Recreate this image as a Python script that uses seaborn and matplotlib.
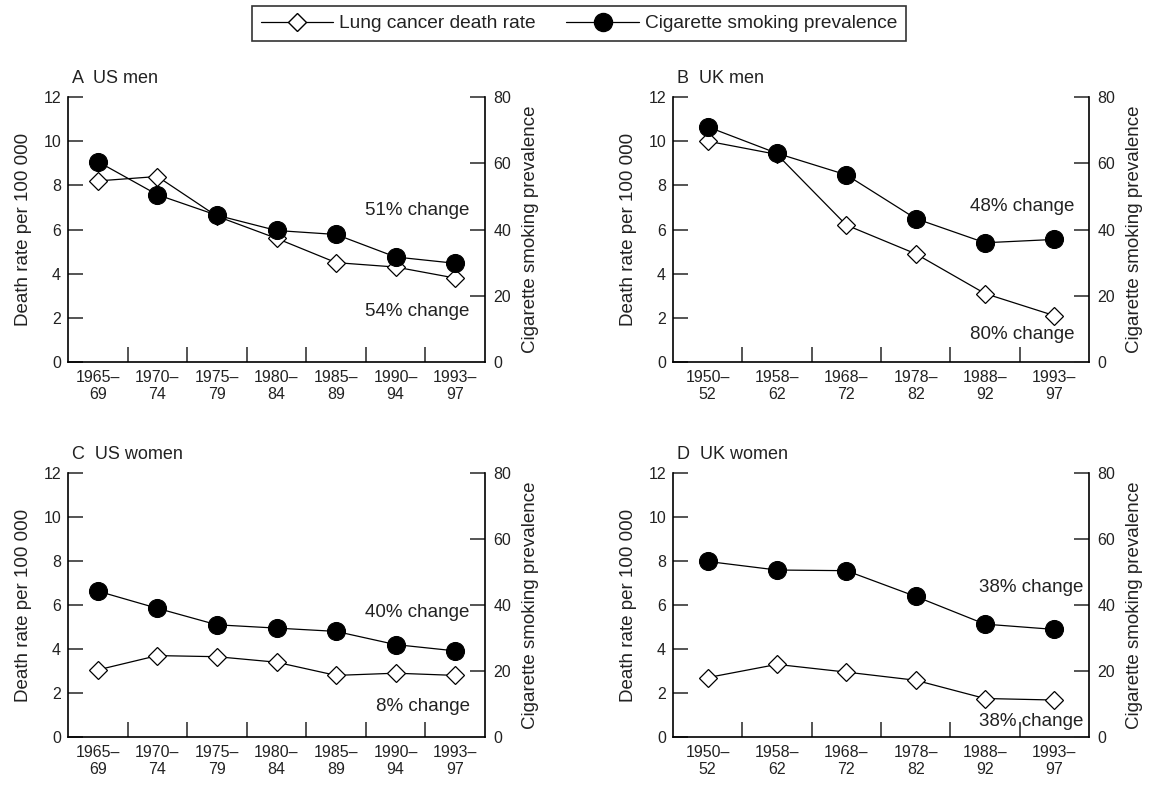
import numpy as np
import pandas as pd
import matplotlib
matplotlib.use("Agg")
import matplotlib.pyplot as plt
from matplotlib.lines import Line2D
import seaborn as sns

# ---------------- data ----------------
us_periods = ["1965–\n69", "1970–\n74", "1975–\n79", "1980–\n84", "1985–\n89", "1990–\n94", "1993–\n97"]
uk_periods = ["1950–\n52", "1958–\n62", "1968–\n72", "1978–\n82", "1988–\n92", "1993–\n97"]

us_men_death = [8.2, 8.4, 6.6, 5.6, 4.5, 4.3, 3.8]
us_men_smoke = [60.5, 50.5, 44.3, 39.7, 38.5, 31.7, 29.8]

uk_men_death = [10.0, 9.4, 6.2, 4.9, 3.1, 2.1]
uk_men_smoke = [71.0, 63.0, 56.5, 43.3, 36.0, 37.0]

us_women_death = [3.05, 3.7, 3.65, 3.4, 2.8, 2.9, 2.8]
us_women_smoke = [44.2, 39.0, 34.0, 33.0, 32.0, 28.0, 26.1]

uk_women_death = [2.7, 3.3, 2.95, 2.58, 1.75, 1.68]
uk_women_smoke = [53.2, 50.6, 50.4, 42.6, 34.2, 32.6]

panel_titles = ["A  US men", "B  UK men", "C  US women", "D  UK women"]
change_labels = [("51% change", "54% change"), ("48% change", "80% change"),
                 ("40% change", "8% change"), ("38% change", "38% change")]
legend_labels = ["Lung cancer death rate", "Cigarette smoking prevalence"]

# --------------- style ----------------
sns.set_style("ticks")
plt.rcParams["font.family"] = ["Liberation Sans", "DejaVu Sans"]
TXT = "#222222"

fig = plt.figure(figsize=(11.51, 7.85), dpi=100)

W, H = 1151, 785
def ax_rect(x0, x1, ytop, ybot):
    return [x0 / W, 1 - ybot / H, (x1 - x0) / W, (ybot - ytop) / H]

rects = [ax_rect(68, 485, 97, 362), ax_rect(673, 1089, 97, 362),
         ax_rect(68, 485, 473, 737), ax_rect(673, 1089, 473, 737)]

panels = [
    (us_periods, us_men_death, us_men_smoke),
    (uk_periods, uk_men_death, uk_men_smoke),
    (us_periods, us_women_death, us_women_smoke),
    (uk_periods, uk_women_death, uk_women_smoke),
]
# annotation positions (axes fraction): x right edge, y upper, y lower
ann_pos = [(0.963, 0.570, 0.192), (0.964, 0.585, 0.102),
           (0.963, 0.470, 0.114), (0.986, 0.568, 0.057)]

LW = 0.9
for i, (periods, death, smoke) in enumerate(panels):
    ax = fig.add_axes(rects[i])
    df = pd.DataFrame({"period": periods, "death": death, "smoke": smoke})
    n = len(periods)
    sns.lineplot(data=df, x="period", y="death", ax=ax, sort=False, color="black",
                 lw=LW, marker="D", markersize=9, markerfacecolor="white",
                 markeredgecolor="black", markeredgewidth=0.9, zorder=3)
    ax2 = ax.twinx()
    sns.lineplot(data=df, x="period", y="smoke", ax=ax2, sort=False, color="black",
                 lw=LW, marker="o", markersize=13, markerfacecolor="black",
                 markeredgecolor="black", zorder=4)

    ax.set_xlim(-0.5, n - 0.5)
    ax.set_ylim(0, 12)
    ax2.set_ylim(0, 80)
    ax.set_yticks(np.arange(0, 13, 2))
    ax2.set_yticks(np.arange(0, 81, 20))
    ax.set_xticks(np.arange(n))
    ax.set_xticklabels(periods, fontsize=11.5, color=TXT, linespacing=1.15)
    ax.set_xticks(np.arange(0.5, n - 1), minor=True)
    ax.tick_params(axis="x", which="major", length=0, pad=6)
    ax.tick_params(axis="x", which="minor", length=10.5, width=1.1, direction="in")
    ax.tick_params(axis="y", length=10.5, width=1.1, direction="in", pad=5,
                   labelsize=11.5, labelcolor=TXT)
    ax2.tick_params(axis="y", length=10.5, width=1.1, direction="in", pad=6,
                    labelsize=11.5, labelcolor=TXT)

    for s in ["top", "right"]:
        ax.spines[s].set_visible(False)
    for s in ["top", "left", "bottom"]:
        ax2.spines[s].set_visible(False)
    for sp in [ax.spines["left"], ax.spines["bottom"], ax2.spines["right"]]:
        sp.set_linewidth(1.2)
        sp.set_color("black")

    ax.set_xlabel("")
    ax.set_ylabel("Death rate per 100 000", fontsize=13.5, color=TXT, labelpad=8)
    ax2.set_ylabel("Cigarette smoking prevalence", fontsize=13.5, color=TXT, labelpad=8)

    ax.text(0.01, 1.07, panel_titles[i], transform=ax.transAxes, fontsize=13,
            color=TXT, ha="left", va="center")
    xr, yu, yl = ann_pos[i]
    ax.text(xr, yu, change_labels[i][0], transform=ax.transAxes, fontsize=13.5,
            color=TXT, ha="right", va="center")
    ax.text(xr, yl, change_labels[i][1], transform=ax.transAxes, fontsize=13.5,
            color=TXT, ha="right", va="center")

handles = [
    Line2D([], [], color="black", lw=LW, marker="D", markersize=9,
           markerfacecolor="white", markeredgecolor="black"),
    Line2D([], [], color="black", lw=LW, marker="o", markersize=13,
           markerfacecolor="black", markeredgecolor="black"),
]
leg = fig.legend(handles, legend_labels, loc="center", bbox_to_anchor=(0.503, 0.970),
                 ncol=2, frameon=True, fancybox=False, fontsize=13.8,
                 handlelength=3.8, handletextpad=0.3, columnspacing=1.6,
                 borderpad=0.45)
leg.get_frame().set_edgecolor("black")
leg.get_frame().set_linewidth(1.2)
for t in leg.get_texts():
    t.set_color(TXT)

fig.savefig("out.png", dpi=100)
